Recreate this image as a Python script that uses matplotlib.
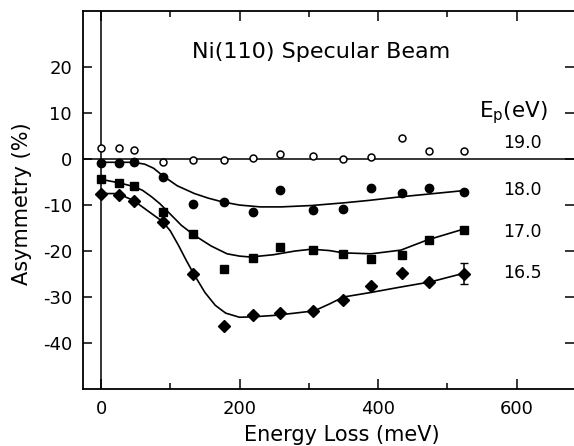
import matplotlib
matplotlib.use("Agg")
import matplotlib.pyplot as plt

# energy loss (meV) of the measured points, shared by all four series
energy = [0, 26, 47, 90, 133, 178, 219, 259, 306, 349, 390, 434, 474, 524]

asym_190 = [2.4, 2.3, 2.0, -0.7, -0.2, -0.2, 0.2, 1.1, 0.7, 0.0, 0.4, 4.6, 1.7, 1.7]
asym_180 = [-0.8, -0.8, -0.7, -4.0, -9.8, -9.4, -11.6, -6.8, -11.0, -10.8, -6.3, -7.4, -6.3, -7.1]
asym_170 = [-4.4, -5.1, -5.9, -11.5, -16.3, -23.9, -21.6, -19.2, -19.7, -20.6, -21.7, -20.8, -17.7, -15.5]
asym_165 = [-7.7, -7.9, -9.2, -13.6, -25.1, -36.2, -33.8, -33.5, -33.0, -30.6, -27.5, -24.8, -26.8, -24.9]
err_165 = [0] * 13 + [2.3]

# guide-to-the-eye curves
fit180_x = [0, 46, 63, 76, 89, 110, 135, 155, 175, 200, 230, 260, 304, 352, 386, 433, 521]
fit180_y = [-0.7, -0.7, -1.1, -2.0, -3.6, -5.8, -7.5, -8.5, -9.3, -10.0, -10.4, -10.4,
            -10.1, -9.5, -9.0, -8.2, -6.9]
fit170_x = [0, 27, 48, 60, 73, 85, 95, 116, 135, 159, 182, 200, 216, 249, 280, 304, 330,
            350, 390, 433, 471, 522]
fit170_y = [-4.4, -5.2, -6.0, -6.8, -8.2, -9.7, -11.2, -14.4, -16.6, -18.9, -20.6, -21.1,
            -21.3, -20.8, -20.0, -19.6, -19.9, -20.4, -20.6, -19.8, -17.6, -15.3]
fit165_x = [0, 24, 47, 67, 89, 100, 112, 123, 134, 150, 165, 180, 200, 220, 250, 280, 308,
            330, 350, 390, 430, 476, 522]
fit165_y = [-7.5, -7.5, -9.0, -11.2, -13.6, -15.6, -18.8, -22.0, -25.0, -29.0, -31.8, -33.5,
            -34.4, -34.3, -34.0, -33.5, -33.0, -31.5, -30.0, -29.0, -27.9, -26.7, -24.9]

ep_labels = ["19.0", "18.0", "17.0", "16.5"]
ep_label_y = [3.5, -6.7, -15.9, -24.8]

plt.rcParams["font.family"] = "DejaVu Sans"
plt.rcParams["axes.unicode_minus"] = False

fig = plt.figure(figsize=(5.74, 4.46), dpi=100)
ax = fig.add_axes([83 / 574, 57 / 446, 491 / 574, 378 / 446])

ax.axhline(0, color="black", lw=1.1)
ax.axvline(0, color="black", lw=1.1)

ax.plot(fit180_x, fit180_y, color="black", lw=1.2)
ax.plot(fit170_x, fit170_y, color="black", lw=1.2)
ax.plot(fit165_x, fit165_y, color="black", lw=1.2)

ax.plot(energy, asym_190, "o", ms=5, mfc="white", mec="black", mew=1.1)
ax.plot(energy, asym_180, "o", ms=6, color="black")
ax.plot(energy, asym_170, "s", ms=5.5, color="black")
ax.errorbar(energy, asym_165, yerr=err_165, fmt="D", ms=6, color="black",
            ecolor="black", elinewidth=1.1, capsize=3)

ax.set_xlim(-26, 683)
ax.set_ylim(-50, 32.2)

ax.set_xticks([0, 200, 400, 600])
ax.set_xticks([100, 300, 500], minor=True)
ax.set_yticks([-40, -30, -20, -10, 0, 10, 20])
ax.tick_params(axis="both", direction="in", labelsize=13, width=1.1, pad=8)
ax.tick_params(axis="x", which="major", length=7, top=True)
ax.tick_params(axis="x", which="minor", length=4.5, top=True, width=1.1, direction="in")
ax.tick_params(axis="y", length=6.5, right=True)
ax.spines["right"].set_visible(False)
for s in ["left", "bottom", "top"]:
    ax.spines[s].set_linewidth(1.3)

ax.set_xlabel("Energy Loss (meV)", fontsize=15)
ax.set_ylabel("Asymmetry (%)", fontsize=15)
ax.xaxis.set_label_coords(0.527, -0.095)
ax.yaxis.set_label_coords(-0.104, 0.49)

ax.text(318, 23.3, "Ni(110) Specular Beam", fontsize=16, ha="center", va="center")
ax.text(546, 10.2, r"E$_{\rm p}$(eV)", fontsize=15.5, ha="left", va="center")
for lab, yy in zip(ep_labels, ep_label_y):
    ax.text(580, yy, lab, fontsize=12.5, ha="left", va="center")

fig.savefig("out.png", dpi=100)
